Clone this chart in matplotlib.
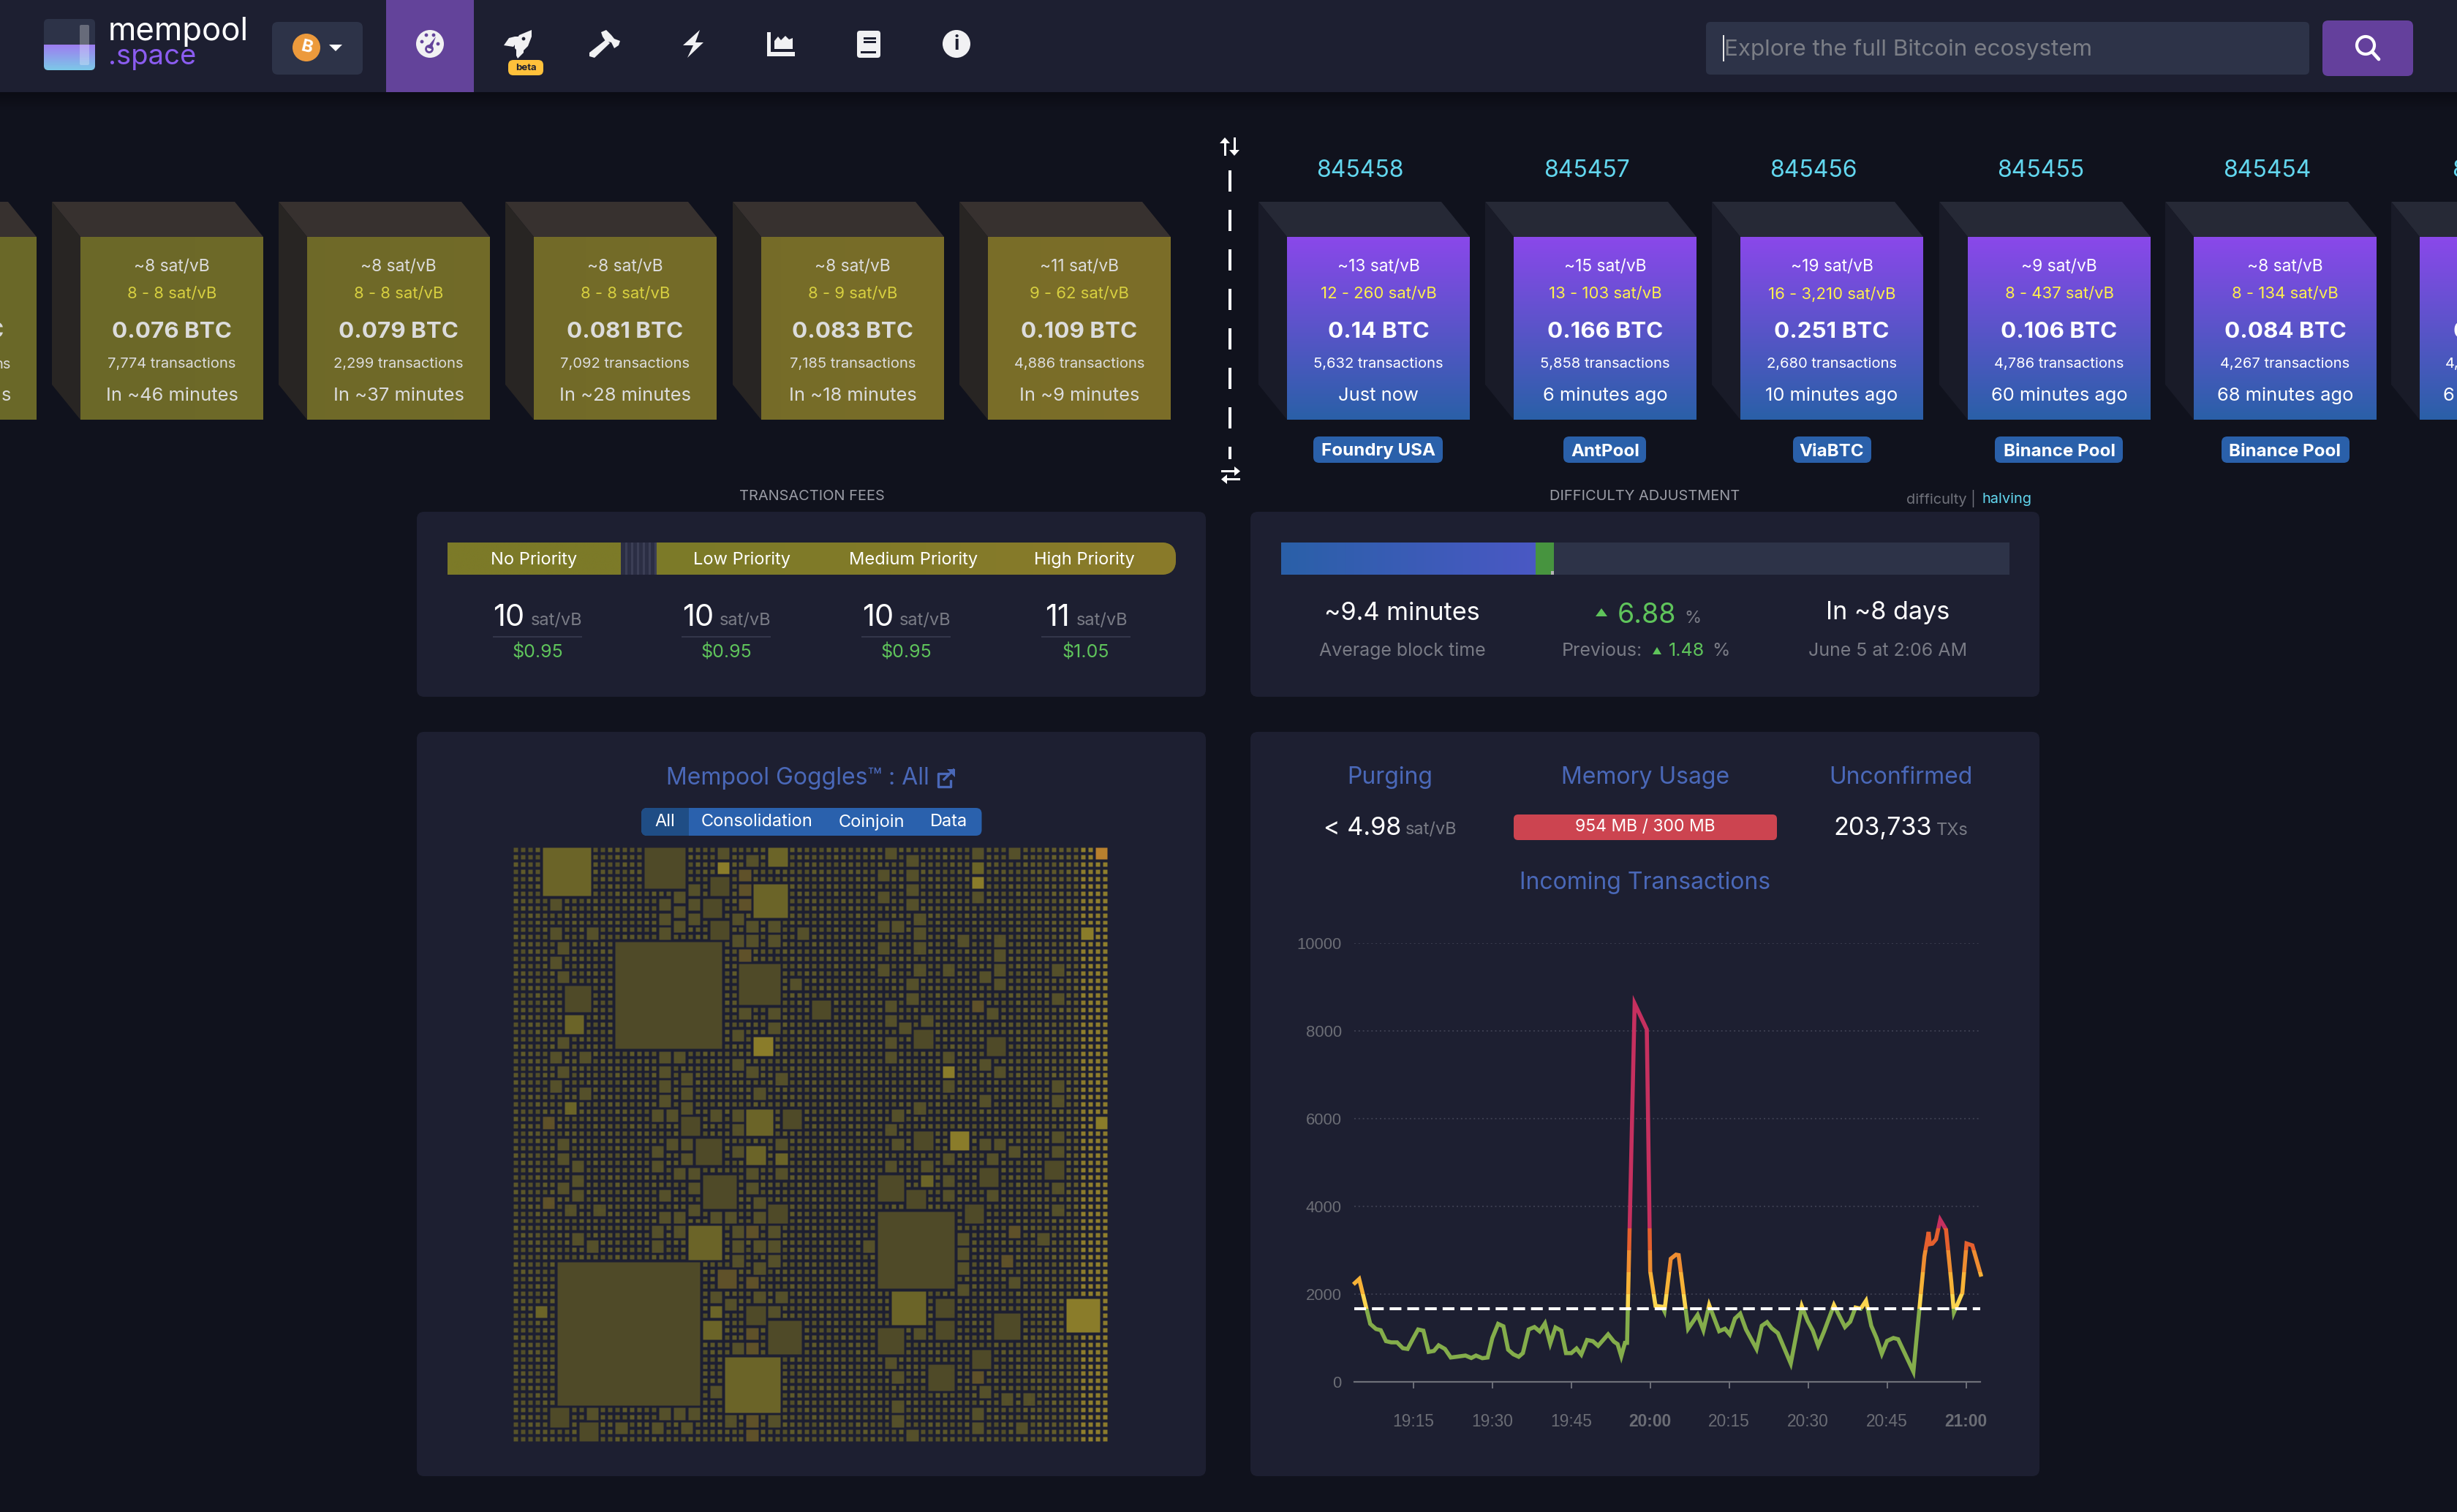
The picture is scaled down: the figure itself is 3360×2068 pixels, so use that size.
import numpy as np
import matplotlib
matplotlib.use('Agg')
import matplotlib.pyplot as plt
from matplotlib.patches import FancyBboxPatch, Rectangle, Polygon, Circle
from matplotlib.collections import PatchCollection
from matplotlib.colors import to_rgb, LinearSegmentedColormap

# ---------- data ----------
pending_median = ['~8 sat/vB', '~8 sat/vB', '~8 sat/vB', '~8 sat/vB', '~11 sat/vB']
pending_range = ['8 - 8 sat/vB', '8 - 8 sat/vB', '8 - 8 sat/vB', '8 - 9 sat/vB', '9 - 62 sat/vB']
pending_btc = ['0.076 BTC', '0.079 BTC', '0.081 BTC', '0.083 BTC', '0.109 BTC']
pending_tx = ['7,774 transactions', '2,299 transactions', '7,092 transactions', '7,185 transactions', '4,886 transactions']
pending_eta = ['In ~46 minutes', 'In ~37 minutes', 'In ~28 minutes', 'In ~18 minutes', 'In ~9 minutes']

mined_height = ['845458', '845457', '845456', '845455', '845454']
mined_median = ['~13 sat/vB', '~15 sat/vB', '~19 sat/vB', '~9 sat/vB', '~8 sat/vB']
mined_range = ['12 - 260 sat/vB', '13 - 103 sat/vB', '16 - 3,210 sat/vB', '8 - 437 sat/vB', '8 - 134 sat/vB']
mined_btc = ['0.14 BTC', '0.166 BTC', '0.251 BTC', '0.106 BTC', '0.084 BTC']
mined_tx = ['5,632 transactions', '5,858 transactions', '2,680 transactions', '4,786 transactions', '4,267 transactions']
mined_age = ['Just now', '6 minutes ago', '10 minutes ago', '60 minutes ago', '68 minutes ago']
mined_pool = ['Foundry USA', 'AntPool', 'ViaBTC', 'Binance Pool', 'Binance Pool']

fee_labels = ['No Priority', 'Low Priority', 'Medium Priority', 'High Priority']
fee_rates = ['10', '10', '10', '11']
fee_usd = ['$0.95', '$0.95', '$0.95', '$1.05']

goggle_tabs = ['All', 'Consolidation', 'Coinjoin', 'Data']

# minutes after 19:15, incoming vB/s
tx_minutes = [-11.4, -10.3, -8.2, -7.1, -6.2, -5.2, -4.2, -3.1, -2.0, -1.1, 0.0, 0.9, 1.9, 2.9, 3.9, 4.8,
              6.0, 7.1, 8.2, 9.9, 11.0, 11.9, 13.1, 14.1, 15.0, 16.1, 17.1, 18.0, 19.0, 20.0, 20.8, 21.9,
              23.0, 24.0, 25.0, 26.0, 27.0, 28.1, 29.0, 30.0, 31.0, 31.9, 33.0, 34.1, 35.1, 37.0, 38.1,
              38.8, 39.5, 40.2, 40.6, 42.04, 44.35, 45.0, 46.0, 47.3, 47.7, 48.9, 49.9, 50.4, 52.2, 54.0,
              55.1, 56.2, 58.1, 59.2, 60.1, 61.1, 62.1, 63.2, 65.2, 66.2, 67.2, 68.1, 69.25, 71.7, 73.8,
              74.9, 75.9, 76.9, 78.0, 79.9, 82.0, 83.0, 84.0, 85.0, 86.0, 87.0, 88.0, 89.0, 90.0, 91.2,
              92.1, 95.0, 97.1, 97.9, 98.1, 98.6, 99.3, 100.1, 101.2, 102.2, 102.7, 104.3, 105.1, 106.2, 107.9]
tx_values = [2222, 2344, 1322, 1205, 1178, 928, 900, 900, 767, 750, 1000, 1194, 1167, 683, 705, 833,
             750, 555, 572, 600, 544, 600, 539, 555, 1000, 1322, 1267, 733, 628, 572, 655, 1194,
             1250, 1150, 1333, 872, 1239, 1167, 655, 655, 761, 622, 955, 928, 822, 1083, 917,
             861, 583, 889, 889, 8623, 8033, 2520, 1733, 1711, 1611, 2806, 2900, 2889, 1211, 1528,
             1178, 1750, 1155, 1211, 1083, 1444, 1555, 1194, 750, 1278, 1361, 1222, 1111, 417, 1722,
             1389, 1167, 822, 1139, 1750, 1250, 1372, 1694, 1667, 1850, 1278, 1000, 639, 933, 1000,
             972, 233, 2861, 3417, 3139, 3150, 3250, 3694, 3472, 2278, 1583, 2028, 3155, 3111, 2400]
tx_ticks = [0, 15, 30, 45, 60, 75, 90, 105]
tx_tick_labels = ['19:15', '19:30', '19:45', '20:00', '20:15', '20:30', '20:45', '21:00']
tx_yticks = [0, 2000, 4000, 6000, 8000, 10000]
tx_limit = 1667
tx_bands = [0, 1667, 2000, 2500, 3000, 3500, 12000]
tx_band_colors = ['#84ad4b', '#fbd54f', '#f7b237', '#ef8d31', '#e55f2e', '#c6305f']

# goggles transactions: (column, row, size) on an 82 x 82 grid, one list per shade
gog_dark = [(18,0,6),(14,13,15),(6,57,20),(50,50,11),(31,16,6),(26,45,5),(35,65,5),(25,40,4),(7,19,4),(50,45,4),
            (50,66,4),(57,71,4),(66,64,4),(27,4,3),(26,7,3),(27,10,3),(41,21,3),(55,25,3),(23,37,3),(37,36,3),
            (55,39,3),(64,44,3),(73,43,3),(35,49,3),(54,47,3),(62,49,3),(32,63,3),(58,62,3),(58,65,3),(63,69,3),
            (5,77,3),(9,79,3),(65,26,3)]
gog_olive = [(4,0,7),(33,5,5),(24,52,5),(52,61,5),(32,36,4),(35,0,3),(7,23,3),(32,41,3),(29,70,8),
             (63,2,2),(7,35,2),(3,63,2),(27,63,2),(36,42,2),(56,45,2),(26,65,3)]
gog_bright = [(33,26,3),(60,39,3),(28,2,2),(63,4,2),(78,11,2),(59,30,2),(80,37,2),(76,62,5)]
gog_brown = [(28,58,3),(31,3,2),(31,5,2),(31,7,2),(31,14,2),(63,21,2),(32,52,2),(68,52,2),(67,56,2),(32,59,2),
             (32,66,2),(32,68,2),(63,72,2),(32,78,2),(32,80,2),(4,37,2),(4,48,2)]
gog_mid = [(28,0,2),(51,0,2),(63,0,2),(68,0,2),(32,1,2),(54,1,2),(50,3,2),(54,3,2),(24,5,2),(54,5,2),(63,6,2),
           (50,6,2),(22,6,2),(5,7,2),(20,7,2),(24,7,2),(54,7,2),(22,8,2),(20,9,2),(24,9,2),(30,9,2),(55,9,2),
           (22,10,2),(32,10,2),(35,10,2),(50,10,2),(52,10,2),(5,11,2),(10,11,2),(20,11,2),(39,11,2),(55,11,2),
           (30,12,2),(32,12,2),(35,12,2),(61,12,2),(66,12,2),(6,13,2),(50,13,2),(55,13,2),(66,14,2),(5,15,2),
           (50,16,2),(55,16,2),(59,16,2),(66,16,2),(74,16,2),(6,17,2),(64,17,2),(38,18,2),(54,18,2),(66,18,2),
           (54,20,2),(74,20,2),(51,21,2),(31,22,2),(35,22,2),(65,22,2),(51,23,2),(56,23,2),(35,24,2),(53,24,2),
           (30,25,2),(6,26,2),(51,26,2),(5,28,2),(9,28,2),(20,28,2),(22,28,2),(51,28,2),(59,28,2),(30,29,2),
           (64,29,2),(6,30,2),(20,30,2),(32,30,2),(66,30,2),(23,31,2),(36,31,2),(5,32,2),(20,32,2),(59,32,2),
           (74,32,2),(9,33,2),(23,33,2),(33,33,2),(20,34,2),(64,34,2),(74,34,2),(23,35,2),(55,35,2),(19,36,2),
           (21,36,2),(27,36,2),(30,36,2),(52,36,2),(30,38,2),(51,38,2),(74,39,2),(6,40,2),(21,40,2),(23,40,2),
           (36,40,2),(52,40,2),(64,40,2),(66,40,2),(19,41,2),(30,41,2),(68,41,2),(74,41,2),(6,42,2),(23,42,2),
           (59,42,2),(65,42,2),(8,43,2),(19,43,2),(51,43,2),(56,43,2),(22,44,2),(24,44,2),(32,44,2),(36,44,2),
           (8,45,2),(59,45,2),(6,46,2),(24,46,2),(32,46,2),(74,46,2),(8,47,2),(20,47,2),(59,47,2),(65,47,2),
           (33,48,2),(7,49,2),(11,49,2),(24,49,2),(74,49,2),(20,50,2),(22,50,2),(27,50,2),(29,50,2),(33,50,2),
           (19,52,2),(22,52,2),(30,52,2),(35,52,2),(8,53,2),(61,53,2),(72,53,2),(10,54,2),(19,54,2),(30,54,2),
           (33,54,2),(35,54,2),(48,54,2),(61,55,2),(30,56,2),(35,56,2),(33,57,2),(61,57,2),(68,59,2),(61,60,2),
           (27,61,2),(33,61,2),(36,61,2),(29,62,2),(35,63,2),(55,66,2),(30,68,2),(51,70,2),(52,72,2),(27,74,2),
           (64,74,2),(67,75,2),(70,75,2),(52,76,2),(10,77,2),(20,77,2),(22,77,2),(24,77,2),(63,77,2),(29,78,2),
           (35,78,2),(52,78,2),(14,79,2),(19,79,2),(23,79,2),(63,79,2),(69,79,2),(54,80,2)]
gog_orange = [(80,0,2)]
gog_shades = ['#57522a', '#524e29', '#5b562a', '#555029', '#5f5a2a']

# ---------- figure ----------
W, H = 3360, 2068
BG, PANEL, FIELD = '#10121d', '#1d1f31', '#2d3348'
TITLE, GREY, GREEN = '#4a68b8', '#797b85', '#5fc45b'
plt.rcParams['font.family'] = ['Inter', 'DejaVu Sans']
fig = plt.figure(figsize=(W / 100, H / 100), dpi=100, facecolor=BG)
bg = fig.add_axes([0, 0, 1, 1])
bg.set_xlim(0, W)
bg.set_ylim(H, 0)
bg.axis('off')


def T(x, y, s, size, color='white', ha='center', va='center', weight='normal', **kw):
    y = y + (2.5 if va == 'center' else 1.5)
    return bg.text(x, y, s, fontsize=size, color=color, ha=ha, va=va, fontweight=weight, **kw)


def rrect(x0, y0, x1, y1, r, color, z=1):
    p = FancyBboxPatch((x0, y0), x1 - x0, y1 - y0, boxstyle=f'round,pad=0,rounding_size={r}',
                       fc=color, ec='none', zorder=z)
    bg.add_patch(p)
    return p


def rect(x0, y0, x1, y1, color, z=1):
    bg.add_patch(Rectangle((x0, y0), x1 - x0, y1 - y0, fc=color, ec='none', zorder=z))


def grad(x0, y0, x1, y1, c0, c1, vertical=True, z=1, clip=None):
    cm = LinearSegmentedColormap.from_list('g', [c0, c1])
    arr = np.linspace(0, 1, 128)
    arr = arr[:, None] if vertical else arr[None, :]
    im = bg.imshow(arr, cmap=cm, extent=(x0, x1, y1, y0), aspect='auto', zorder=z, interpolation='bilinear')
    if clip is not None:
        im.set_clip_path(clip)
    bg.set_xlim(0, W)
    bg.set_ylim(H, 0)
    return im


def poly(pts, color, z=2):
    bg.add_patch(Polygon(pts, closed=True, fc=color, ec='none', zorder=z))


def lerp(a, b, t):
    a, b = np.array(to_rgb(a)), np.array(to_rgb(b))
    return tuple(a + (b - a) * t)


# ---------- header ----------
rect(0, 0, W, 126, PANEL, 3)
grad(0, 126, W, 150, '#0b0c14', BG, z=1)
rect(528, 0, 648, 126, '#63439a', 4)

# logo
logo = rrect(60, 26, 130, 96, 6, '#2d3348', 4)
grad(60, 61, 130, 96, '#9d7df0', '#7cc9e8', z=4, clip=logo)
rrect(109, 34, 122, 89, 2, '#ffffff', 5).set_alpha(0.28)
T(148, 41, 'mempool', 31.5, ha='left', zorder=5)
T(148, 75, '.space', 27.5, '#8b5cf0', ha='left', zorder=5)

rrect(372, 30, 496, 102, 8, FIELD, 4)
bg.add_patch(Circle((419, 65), 19, fc='#ec9a3c', ec='none', zorder=5))
T(419, 62.5, 'B', 17, 'white', weight='bold', zorder=6, rotation=-14, rotation_mode='anchor')
poly([(450, 61), (468, 61), (459, 70)], 'white', 5)

NAVW = '#f1f1f3'
ACC = '#63439a'
# dashboard gauge
bg.add_patch(Circle((588, 60), 19, fc=NAVW, ec='none', zorder=5))
for dx, dy in [(-11, -3), (-5, -12), (5, -12), (11, 0)]:
    bg.add_patch(Circle((588 + dx, 60 + dy), 2.4, fc=ACC, ec='none', zorder=6))
bg.add_patch(Circle((587, 67), 4.5, fc=NAVW, ec=ACC, lw=2, zorder=6))
poly([(584, 65), (590, 67), (596, 50)], ACC, 6)
# rocket
poly([(727, 41), (727, 50), (722, 63), (715, 70), (708, 70), (704, 66), (704, 58), (710, 48)], NAVW, 5)
poly([(704, 50), (712, 50), (702, 64), (689, 62), (696, 52)], NAVW, 5)
poly([(706, 68), (716, 68), (716, 72), (708, 80), (706, 76)], NAVW, 5)
bg.add_patch(Circle((716, 53), 2.4, fc=PANEL, ec='none', zorder=6))
rrect(695, 82, 743, 103, 7, '#ffc13b', 5)
T(719, 90, 'beta', 9.5, '#1d1f31', weight='bold', zorder=6)
# hammer
poly([(822, 44), (829, 41), (836, 48), (840, 53), (848, 56), (846, 62), (840, 66), (836, 58), (828, 56), (824, 50)], NAVW, 5)
poly([(829, 54), (834, 59), (813, 79), (806, 77), (806, 72)], NAVW, 5)
# bolt
poly([(957, 41), (934, 62), (948, 62), (940, 79), (962, 58), (951, 58)], NAVW, 5)
# chart
poly([(1049, 44), (1054, 44), (1054, 71), (1087, 71), (1087, 77), (1049, 77)], NAVW, 5)
poly([(1059, 67), (1059, 56), (1064, 50), (1068, 55), (1074, 49), (1079, 54), (1084, 52), (1084, 67)], NAVW, 5)
# book
rrect(1172, 42, 1204, 79, 4, NAVW, 5)
rect(1181, 51, 1198, 53.5, PANEL, 6)
rect(1181, 56, 1198, 58.5, PANEL, 6)
rect(1177, 70, 1198, 73, PANEL, 6)
# info
bg.add_patch(Circle((1308, 60), 19, fc=NAVW, ec='none', zorder=5))
T(1308, 58, 'i', 19, PANEL, weight='bold', zorder=6)

# search
rrect(2333, 30, 3158, 102, 6, FIELD, 4)
rect(2356, 48, 2357.5, 84, '#e8e8e8', 5)
T(2358, 65, 'Explore the full Bitcoin ecosystem', 22.6, '#7b7e86', ha='left', zorder=5)
rrect(3176, 28, 3300, 104, 8, '#64409c', 4)
bg.add_patch(Circle((3235, 62), 12, fc='none', ec='white', lw=3, zorder=5))
bg.plot([3244, 3253], [71, 81], color='white', lw=3.4, zorder=5, solid_capstyle='round')

# ---------- blocks ----------
BW, BY0, BY1, PITCH = 250, 324, 574, 310


def block_shell(x, top, side, c0, c1, vertical):
    poly([(x - 39, 276), (x + BW - 39, 276), (x + BW, BY0), (x, BY0)], top)
    poly([(x - 39, 276), (x, BY0), (x, BY1), (x - 39, 526)], side)
    grad(x, BY0, x + BW, BY1, c0, c1, vertical=vertical, z=2)


def block_text(cx, a, b, c, d, e, main, yellow):
    T(cx, 363, a, 16.4, main, zorder=4)
    T(cx, 400, b, 15.9, yellow, zorder=4)
    T(cx, 452, c, 22.6, main, weight='bold', zorder=4)
    T(cx, 496, d, 14.5, main, zorder=4)
    T(cx, 539, e, 18.4, main, zorder=4)


OL0, OL1 = '#6a6828', '#7c6e29'
for x in [-200, 110, 420, 730, 1041, 1351]:
    block_shell(x, '#37312f', '#282523', lerp(OL0, OL1, max(x, 0) / 1600), lerp(OL0, OL1, (x + BW) / 1600), False)
T(5, 452, 'C', 22.6, '#d9d9d9', ha='right', weight='bold', zorder=4)
T(15, 496, 'ns', 14.5, '#d9d9d9', ha='right', zorder=4)
T(15, 539, 's', 18.4, '#d9d9d9', ha='right', zorder=4)
for i, x in enumerate([110, 420, 730, 1041, 1351]):
    block_text(x + BW / 2, pending_median[i], pending_range[i], pending_btc[i], pending_tx[i], pending_eta[i],
               '#dcdcdc', '#d8d040')

mx = [1760, 2070, 2380, 2691, 3000, 3309]
for x in mx:
    block_shell(x, '#262936', '#191b28', '#8a48ea', '#2a60a8', True)
badges = [(1796, 1973), (2138, 2251), (2452, 2559), (2728, 2903), (3038, 3213)]
for i, x in enumerate(mx[:5]):
    T(x + 100, 231, mined_height[i], 23, '#62d6ee', zorder=4)
    block_text(x + BW / 2, mined_median[i], mined_range[i], mined_btc[i], mined_tx[i], mined_age[i],
               'white', '#fff04d')
    rrect(badges[i][0], 597, badges[i][1], 633, 8, '#2a60aa', 3)
    T(x + BW / 2, 615, mined_pool[i], 17.4, 'white', weight='bold', zorder=4)
T(3353, 231, '8', 23, '#62d6ee', ha='left', zorder=4)
T(3355, 452, '0', 22.6, 'white', ha='left', weight='bold', zorder=4)
T(3344, 496, '4,', 14.5, 'white', ha='left', zorder=4)
T(3341, 539, '6', 18.4, 'white', ha='left', zorder=4)

# divider
for y in [233, 287, 341, 395, 449, 503, 557, 611]:
    rect(1680, y, 1684, y + 29 if y < 611 else 628, 'white', 3)
# sort / swap icons
rect(1673.5, 192, 1676.5, 213, 'white', 4)
poly([(1668, 196), (1682, 196), (1675, 188)], 'white', 4)
rect(1686.5, 188, 1689.5, 209, 'white', 4)
poly([(1681, 205), (1695, 205), (1688, 213)], 'white', 4)
rect(1670, 643, 1690, 646, 'white', 4)
poly([(1688, 638), (1688, 651), (1696, 644.5)], 'white', 4)
rect(1676, 654, 1696, 657, 'white', 4)
poly([(1678, 649), (1678, 662), (1670, 655.5)], 'white', 4)

# ---------- panels ----------
for x0, y0, x1, y1 in [(570, 700, 1649, 953), (570, 1001, 1649, 2019), (1710, 700, 2789, 953), (1710, 1001, 2789, 2019)]:
    rrect(x0, y0, x1, y1, 10, PANEL, 1)
T(1110, 677, 'TRANSACTION FEES', 14.4, '#9a9ca5', zorder=4)
T(2249, 677, 'DIFFICULTY ADJUSTMENT', 14.4, '#9a9ca5', zorder=4)
T(2607, 680, 'difficulty |', 14.4, '#6f717a', ha='left', zorder=4)
T(2710, 680, 'halving', 14.4, '#62d6ee', ha='left', zorder=4)

# fee bar
grad(612, 742, 849, 786, '#7c7a28', '#7c7a28', vertical=False, z=2)
rect(849, 742, 897, 786, '#2b2e44', 2)
for x in range(855, 897, 8):
    rect(x, 742, x + 3, 786, '#3b3e55', 3)
barclip = rrect(897, 742, 1608, 786, 20, '#7c7a28', 2)
rect(897, 742, 930, 786, '#7c7a28', 2)
grad(925, 742, 1608, 786, '#7c7a28', '#8a7a2a', vertical=False, z=2, clip=barclip)
for x, lab in zip([730.5, 1014, 1249, 1483], fee_labels):
    T(x, 763, lab, 17, zorder=4)
for i in range(4):
    x_val = [674, 933, 1179, 1429][i]
    x_sat = [726, 984, 1230, 1472][i]
    cx = [735, 993, 1239, 1485][i]
    T(x_val, 854, fee_rates[i], 30, ha='left', va='baseline', zorder=4)
    T(x_sat, 854, 'sat/vB', 17, GREY, ha='left', va='baseline', zorder=4)
    rect(cx - 61, 870, cx + 61, 872, '#33364a', 3)
    T(cx, 890, fee_usd[i], 18, GREEN, zorder=4)

# difficulty
rect(1752, 742, 2748, 786, FIELD, 2)
grad(1752, 742, 2100, 786, '#2a60a8', '#4a58c4', vertical=False, z=3)
rect(2100, 742, 2125, 786, '#47943f', 4)
rect(2121, 781, 2125, 786, '#b5b5b5', 5)
T(1917.5, 836, '~9.4 minutes', 24.6, zorder=4)
poly([(2182, 843), (2198, 843), (2190, 832)], GREEN, 4)
T(2212, 840, '6.88', 27, GREEN, ha='left', zorder=4)
T(2303, 844, '%', 17, GREY, ha='left', zorder=4)
T(2582, 836, 'In ~8 days', 24.6, zorder=4)
T(1917.5, 888, 'Average block time', 18, GREY, zorder=4)
T(2136, 888, 'Previous:', 18, GREY, ha='left', zorder=4)
poly([(2260, 895), (2272, 895), (2266, 885)], GREEN, 4)
T(2282, 888, '1.48', 18, GREEN, ha='left', zorder=4)
T(2341, 888, '%', 18, GREY, ha='left', zorder=4)
T(2582, 888, 'June 5 at 2:06 AM', 18, GREY, zorder=4)

# goggles header
T(911, 1062, 'Mempool Goggles™ : All', 23, TITLE, ha='left', zorder=4)
bg.plot([1300, 1300, 1283, 1283, 1296], [1068, 1076, 1076, 1058, 1058], color=TITLE, lw=2.4, zorder=4)
bg.plot([1291, 1304], [1066, 1053], color=TITLE, lw=2.4, zorder=4)
poly([(1295, 1052), (1306, 1052), (1306, 1063)], TITLE, 4)
tabclip = rrect(877, 1105, 1342.5, 1143, 8, '#2a61ad', 2)
sel = Rectangle((877, 1105), 65, 38, fc='#1f4d85', ec='none', zorder=3)
bg.add_patch(sel)
sel.set_clip_path(tabclip)
for x, lab in zip([909, 1035, 1192, 1298], goggle_tabs):
    T(x, 1122, lab, 17, zorder=4)

# mempool header
for x, lab in zip([1901, 2250, 2599], ['Purging', 'Memory Usage', 'Unconfirmed']):
    T(x, 1061, lab, 23, TITLE, zorder=4)
T(1809.5, 1140, '< 4.98', 24.6, ha='left', va='baseline', zorder=4)
T(1992, 1140, 'sat/vB', 17, GREY, ha='right', va='baseline', zorder=4)
rrect(2070, 1114, 2430, 1149, 6, '#cc4450', 2)
T(2250, 1129, '954 MB / 300 MB', 16.5, zorder=4)
T(2507, 1140, '203,733', 24.6, ha='left', va='baseline', zorder=4)
T(2692, 1140, 'TXs', 17, GREY, ha='right', va='baseline', zorder=4)
T(2250, 1205, 'Incoming Transactions', 23, TITLE, zorder=4)


def add_axes_px(x0, y0, x1, y1):
    return fig.add_axes([x0 / W, 1 - y1 / H, (x1 - x0) / W, (y1 - y0) / H])


# ---------- goggles ----------
gx = add_axes_px(702, 1159, 1518, 1975)
gx.set_xlim(0, 82)
gx.set_ylim(82, 0)
gx.axis('off')
GAP = 0.36
taken = np.zeros((82, 82), bool)
patches = []
for items, col in [(gog_dark, '#4f4a28'), (gog_olive, '#6b6428'), (gog_bright, '#8a7c2a'),
                   (gog_brown, '#5f5129'), (gog_mid, '#55502a'), (gog_orange, '#b8802e')]:
    for c, r, s in items:
        taken[r:r + s, c:c + s] = True
        patches.append(Rectangle((c, r), s - GAP, s - GAP, fc=col, ec='none'))
for r in range(82):
    for c in range(82):
        if not taken[r, c]:
            tone = to_rgb(gog_shades[(c * 3 + r * 2) % len(gog_shades)])
            t = 0.0 if c < 68 else (c - 68) / 10 * 0.15 if c < 78 else 0.58
            col = lerp(tone, '#b49a30', t)
            patches.append(Rectangle((c, r), 1 - 0.4, 1 - 0.4, fc=col, ec='none'))
gx.add_collection(PatchCollection(patches, match_original=True))

# ---------- incoming transactions ----------
ax = add_axes_px(1851.5, 1290, 2708, 1890)
ax.set_facecolor('none')
ax.set_xlim(-11.3, 107.7)
ax.set_ylim(0, 10000)
for sp in ['top', 'left', 'right']:
    ax.spines[sp].set_visible(False)
ax.spines['bottom'].set_color('#6e7079')
ax.spines['bottom'].set_linewidth(1.6)
ax.set_yticks(tx_yticks)
ax.set_xticks(tx_ticks)
ax.set_xticklabels(tx_tick_labels)
ax.tick_params(axis='y', length=0, pad=12, labelsize=15.8, labelcolor='#6b6d75', labelfontfamily='Liberation Sans')
ax.tick_params(axis='x', length=6.3, width=1.4, color='#6e7079', pad=25, labelsize=16.4, labelcolor='#6b6d75',
               labelfontfamily='Liberation Sans')
for lab in ax.get_xticklabels():
    if lab.get_text() in ('20:00', '21:00'):
        lab.set_fontweight('bold')
ax.grid(axis='y', color='#3c3e50', lw=1.4, ls=(0, (1, 2)))
ax.set_axisbelow(True)
for lo, hi, col in zip(tx_bands[:-1], tx_bands[1:], tx_band_colors):
    ln, = ax.plot(tx_minutes, tx_values, color=col, lw=4.0, solid_joinstyle='miter', solid_capstyle='butt', zorder=3)
    ln.set_clip_path(Rectangle((-20, lo), 140, hi - lo, transform=ax.transData))
ax.plot([-11.3, 107.7], [tx_limit, tx_limit], color='white', lw=2.9, dashes=(16 / 4, 8 / 4), zorder=4, dash_capstyle='butt')

fig.savefig('out.png', dpi=100, facecolor=BG)
